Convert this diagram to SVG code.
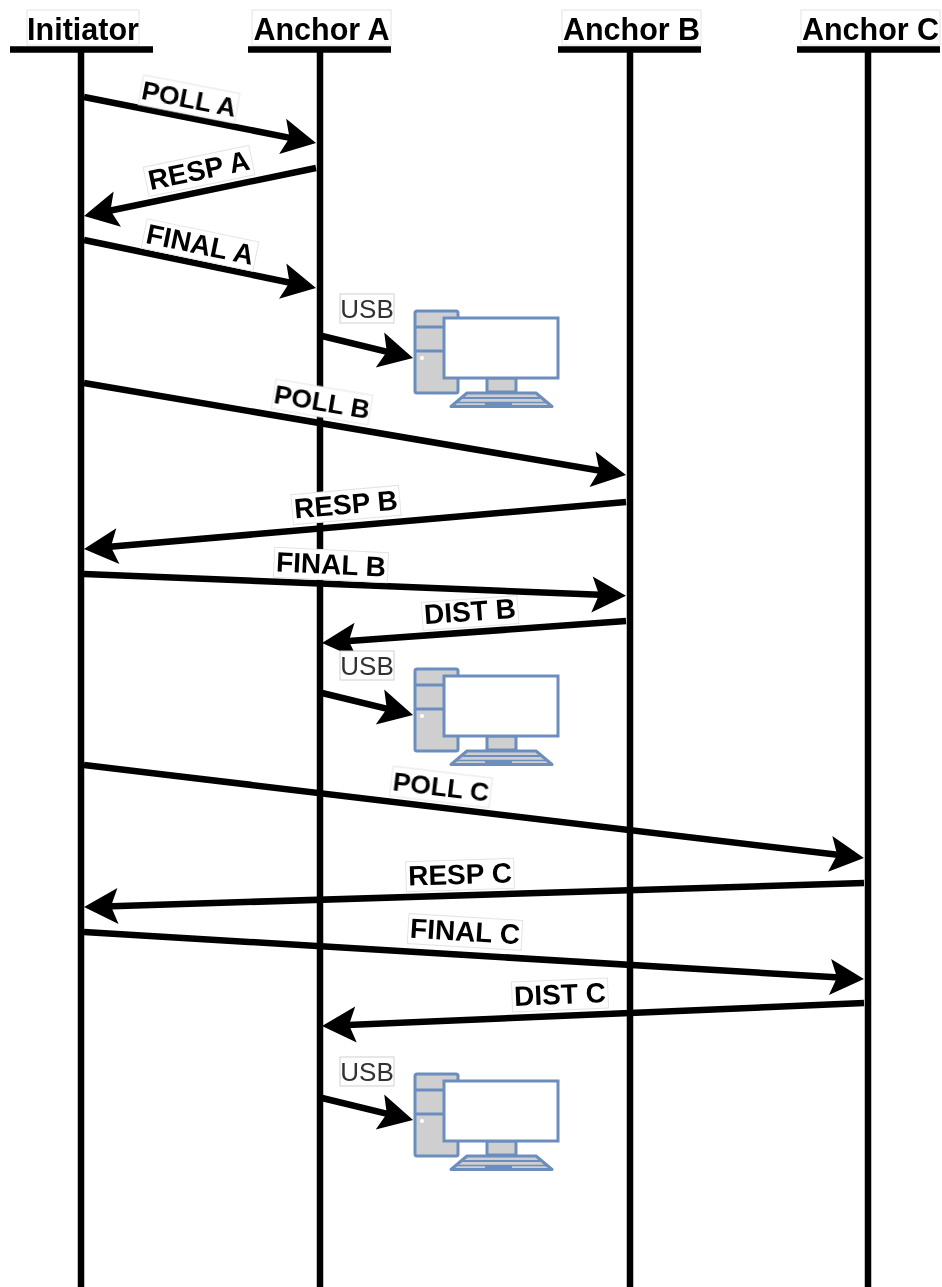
<svg xmlns="http://www.w3.org/2000/svg" xmlns:xlink="http://www.w3.org/1999/xlink" width="942" height="1287" viewBox="0 0 942 1287">
<style>
.life{stroke:#000;stroke-width:6.500;fill:none}
.msg{stroke:#000;stroke-width:6.500;fill:none;marker-end:url(#head)}
.hbox{fill:#fff;stroke:#e4e4e4;stroke-width:1}
.lbox{fill:#fff;stroke:#e4e4e4;stroke-width:1}
.ubox{fill:#fff;stroke:#cfcfcf;stroke-width:1}
text{font-family:"Liberation Sans",Arial,sans-serif;text-anchor:middle;fill:#000}
.h{font-size:30.500px;font-weight:bold}
.l{font-size:28px;font-weight:bold}
.p{font-size:26.500px;font-weight:bold}
.u{font-size:26px;fill:#333}
.pc{fill:#cfcfcf;stroke:#6c8ebf;stroke-width:3;stroke-linejoin:round}
.scr{fill:#fff;stroke:#6c8ebf;stroke-width:3}
</style>
<defs>
<filter id="soft" x="0" y="0" width="942" height="1287" filterUnits="userSpaceOnUse"><feGaussianBlur stdDeviation="0.600"/></filter>
<marker id="head" markerUnits="userSpaceOnUse" markerWidth="44" markerHeight="44" viewBox="-4 -22 44 44" refX="14" refY="0" orient="auto">
<path d="M34 0L0 -18L7 0L0 18Z" fill="#000"/>
</marker>
<g id="computer">
<rect class="pc" x="415" y="311" width="43" height="82" rx="2"/>
<path class="pc" d="M415 327H444M415 351H444"/>
<circle cx="422" cy="358" r="2" fill="#fff"/>
<rect class="pc" x="487" y="378" width="29" height="14"/>
<path class="pc" d="M451 406.500L467 393H536L552 406.500Z"/>
<path d="M463 398H540" stroke="#6c8ebf" stroke-width="2" fill="none"/>
<path d="M457 402.500H546" stroke="#6c8ebf" stroke-width="1.500" fill="none"/>
<rect x="485" y="402" width="27" height="5" fill="#6c8ebf"/>
<rect class="scr" x="444" y="318" width="114" height="60"/>
</g>
</defs>
<rect width="942" height="1287" fill="#fff"/>
<g filter="url(#soft)">
<g id="initiator">
<rect class="hbox" x="27" y="10" width="112" height="35"/>
<text class="h" x="83" y="40">Initiator</text>
<path class="life" d="M10 49.500H153M81 50V1287"/>
</g>
<g id="anchor-a">
<rect class="hbox" x="252" y="10" width="139" height="35"/>
<text class="h" x="321.500" y="40">Anchor A</text>
<path class="life" d="M248 49.500H391M320 50V1287"/>
</g>
<g id="anchor-b">
<rect class="hbox" x="562" y="10" width="139" height="35"/>
<text class="h" x="631.500" y="40">Anchor B</text>
<path class="life" d="M558 49.500H701M630 50V1287"/>
</g>
<g id="anchor-c">
<rect class="hbox" x="801" y="10" width="139" height="35"/>
<text class="h" x="870.500" y="40">Anchor C</text>
<path class="life" d="M797 49.500H940M868 50V1287"/>
</g>
<g id="pc-1"><use xlink:href="#computer" href="#computer"/></g>
<g id="pc-2"><use xlink:href="#computer" href="#computer" y="358"/></g>
<g id="pc-3"><use xlink:href="#computer" href="#computer" y="763"/></g>
<g id="connectors">
<line class="msg" x1="84" y1="97" x2="296.400" y2="139.100"/>
<line class="msg" x1="316" y1="168" x2="103.600" y2="212"/>
<line class="msg" x1="84" y1="240" x2="296.400" y2="284"/>
<line class="msg" x1="322" y1="336" x2="393.600" y2="353.300"/>
<line class="msg" x1="84" y1="383" x2="606.300" y2="471.700"/>
<line class="msg" x1="626" y1="502" x2="103.900" y2="547.300"/>
<line class="msg" x1="84" y1="574" x2="606" y2="595"/>
<line class="msg" x1="626" y1="621" x2="341.900" y2="641.600"/>
<line class="msg" x1="322" y1="693" x2="393.600" y2="710.300"/>
<line class="msg" x1="84" y1="765" x2="844.100" y2="855.600"/>
<line class="msg" x1="864" y1="883" x2="104" y2="906.400"/>
<line class="msg" x1="84" y1="932" x2="844" y2="977.800"/>
<line class="msg" x1="864" y1="1003" x2="342" y2="1025.200"/>
<line class="msg" x1="322" y1="1098" x2="393.600" y2="1115.300"/>
</g>
<g id="labels">
<g transform="translate(189 99) rotate(11)"><rect class="lbox" x="-49" y="-15" width="98" height="30"/><text class="p" y="9">POLL A</text></g>
<g transform="translate(199 171) rotate(-11.700)"><rect class="lbox" x="-54" y="-15" width="108" height="30"/><text class="l" y="9">RESP A</text></g>
<g transform="translate(200 245) rotate(11.700)"><rect class="lbox" x="-57" y="-15" width="114" height="30"/><text class="l" y="9">FINAL A</text></g>
<g transform="translate(322 402) rotate(9.600)"><rect class="lbox" x="-49" y="-15" width="98" height="30"/><text class="p" y="9">POLL B</text></g>
<g transform="translate(346 505) rotate(-5)"><rect class="lbox" x="-54" y="-15" width="108" height="30"/><text class="l" y="9">RESP B</text></g>
<g transform="translate(331 565) rotate(2.700)"><rect class="lbox" x="-57" y="-15" width="114" height="30"/><text class="l" y="9">FINAL B</text></g>
<g transform="translate(470 612) rotate(-4.100)"><rect class="lbox" x="-48" y="-13" width="96" height="28"/><text class="l" y="9">DIST B</text></g>
<g transform="translate(441 787) rotate(6.800)"><rect class="lbox" x="-50" y="-15" width="100" height="30"/><text class="p" y="9">POLL C</text></g>
<g transform="translate(460 875) rotate(-1.800)"><rect class="lbox" x="-54" y="-15" width="108" height="30"/><text class="l" y="9">RESP C</text></g>
<g transform="translate(465 932) rotate(3.400)"><rect class="lbox" x="-57" y="-15" width="114" height="30"/><text class="l" y="9">FINAL C</text></g>
<g transform="translate(560 995) rotate(-2.400)"><rect class="lbox" x="-48" y="-15" width="96" height="30"/><text class="l" y="9">DIST C</text></g>
<rect class="ubox" x="340" y="294" width="54" height="29"/><text class="u" x="367" y="318">USB</text>
<rect class="ubox" x="340" y="651" width="54" height="29"/><text class="u" x="367" y="675">USB</text>
<rect class="ubox" x="340" y="1057" width="54" height="29"/><text class="u" x="367" y="1081">USB</text>
</g>
</g>
</svg>
